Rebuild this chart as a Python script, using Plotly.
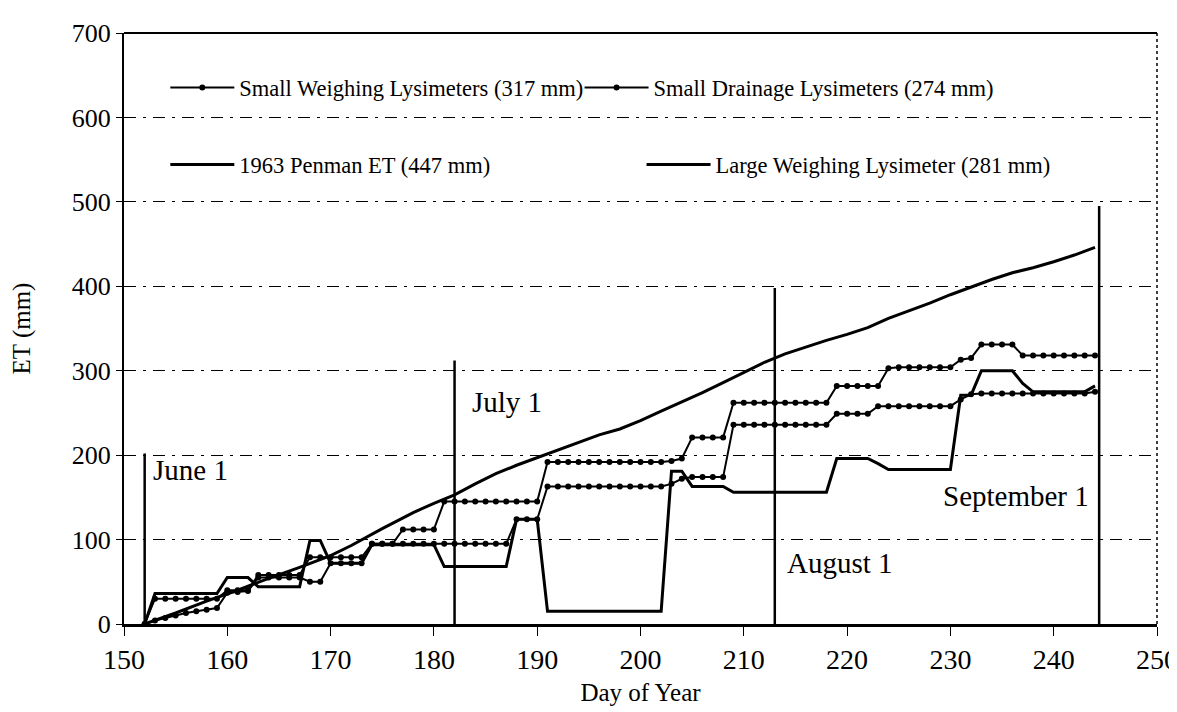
import plotly.graph_objects as go

# ---------------- data ----------------
days = [152, 153, 154, 155, 156, 157, 158, 159, 160, 161,
        162, 163, 164, 165, 166, 167, 168, 169, 170, 171,
        172, 173, 174, 175, 176, 177, 178, 179, 180, 181,
        182, 183, 184, 185, 186, 187, 188, 189, 190, 191,
        192, 193, 194, 195, 196, 197, 198, 199, 200, 201,
        202, 203, 204, 205, 206, 207, 208, 209, 210, 211,
        212, 213, 214, 215, 216, 217, 218, 219, 220, 221,
        222, 223, 224, 225, 226, 227, 228, 229, 230, 231,
        232, 233, 234, 235, 236, 237, 238, 239, 240, 241,
        242, 243, 244]

small_weighing = [0, 30, 30, 30, 30, 30, 30, 30, 40, 40,
                  40, 58, 58, 58, 58, 58, 79, 79, 79, 79,
                  79, 79, 95, 95, 95, 112, 112, 112, 112, 145,
                  145, 145, 145, 145, 145, 145, 145, 145, 145, 192,
                  192, 192, 192, 192, 192, 192, 192, 192, 192, 192,
                  192, 193, 196, 221, 221, 221, 221, 262, 262, 262,
                  262, 262, 262, 262, 262, 262, 262, 282, 282, 282,
                  282, 282, 303, 304, 304, 304, 304, 304, 304, 313,
                  315, 331, 331, 331, 331, 318, 318, 318, 318, 318,
                  318, 318, 318]

small_drainage = [0, 4, 7, 10, 13, 15, 17, 19, 37, 38,
                  39, 55, 55, 55, 55, 55, 50, 50, 72, 72,
                  72, 72, 95, 95, 95, 95, 95, 95, 95, 95,
                  95, 95, 95, 95, 95, 95, 124, 124, 124, 163,
                  163, 163, 163, 163, 163, 163, 163, 163, 163, 163,
                  163, 166, 172, 174, 174, 174, 174, 236, 236, 236,
                  236, 236, 236, 236, 236, 236, 236, 249, 249, 249,
                  249, 258, 258, 258, 258, 258, 258, 258, 258, 266,
                  272, 273, 273, 273, 273, 273, 273, 273, 273, 273,
                  273, 273, 275]

large_weighing = [0, 36, 36, 36, 36, 36, 36, 36, 55, 55,
                  55, 44, 44, 44, 44, 44, 99, 99, 72, 72,
                  72, 72, 94, 94, 94, 94, 94, 94, 94, 68,
                  68, 68, 68, 68, 68, 68, 124, 124, 124, 15,
                  15, 15, 15, 15, 15, 15, 15, 15, 15, 15,
                  15, 181, 181, 163, 163, 163, 163, 156, 156, 156,
                  156, 156, 156, 156, 156, 156, 156, 196, 196, 196,
                  196, 190, 183, 183, 183, 183, 183, 183, 183, 271,
                  271, 300, 300, 300, 300, 285, 275, 275, 275, 275,
                  275, 275, 282]

penman_days = [152, 155, 158, 161, 164, 167, 170, 172, 175, 178,
               180, 182, 184, 186, 188, 190, 192, 194, 196, 198,
               200, 202, 204, 206, 208, 210, 212, 214, 216, 218,
               220, 222, 224, 226, 228, 230, 232, 234, 236, 238,
               240, 242, 244]
penman = [0, 13, 27, 40, 54, 67, 81, 93, 113, 132,
          143, 153, 166, 178, 188, 197, 206, 215, 224, 231,
          241, 252, 263, 274, 286, 298, 310, 320, 328, 336,
          343, 351, 362, 371, 380, 390, 399, 408, 416, 422,
          429, 437, 446]

month_labels = ["June 1", "July 1", "August 1", "September 1"]
month_days = [152, 182, 213, 244.4]
month_tops = [202, 312, 398, 495]

legend_names = ["Small Weighing Lysimeters (317 mm)",
                "Small Drainage Lysimeters (274 mm)",
                "1963 Penman ET (447 mm)",
                "Large Weighing Lysimeter (281 mm)"]

x_ticks = [150, 160, 170, 180, 190, 200, 210, 220, 230, 240, 250]
y_ticks = [0, 100, 200, 300, 400, 500, 600, 700]

# ---------------- figure ----------------
FONT = "Liberation Serif, Times New Roman, serif"
fig = go.Figure()

# month marker lines
for d, top in zip(month_days, month_tops):
    fig.add_trace(go.Scatter(x=[d, d], y=[0, top], mode="lines",
                             line=dict(color="black", width=2.5),
                             showlegend=False, hoverinfo="skip"))

fig.add_trace(go.Scatter(x=penman_days, y=penman, mode="lines",
                         name=legend_names[2], legend="legend3",
                         line=dict(color="black", width=3)))
fig.add_trace(go.Scatter(x=days, y=large_weighing, mode="lines",
                         name=legend_names[3], legend="legend4",
                         line=dict(color="black", width=3)))
fig.add_trace(go.Scatter(x=days, y=small_weighing, mode="lines+markers",
                         name=legend_names[0], legend="legend",
                         line=dict(color="black", width=2),
                         marker=dict(color="black", size=6, symbol="circle")))
fig.add_trace(go.Scatter(x=days, y=small_drainage, mode="lines+markers",
                         name=legend_names[1], legend="legend2",
                         line=dict(color="black", width=2),
                         marker=dict(color="black", size=6, symbol="circle")))

# month text labels
label_pos = [(152.6, 182, "left"), (183.5, 263, "left"), (214.0, 72, "left"), (243.6, 152, "right")]
for txt, (lx, ly, anc) in zip(month_labels, label_pos):
    fig.add_annotation(x=lx, y=ly, text=txt, showarrow=False, xanchor=anc,
                       yanchor="middle", font=dict(family=FONT, size=29, color="black"))

# right dotted border
fig.add_shape(type="line", xref="paper", yref="paper", x0=1, x1=1, y0=0, y1=1,
              line=dict(color="black", width=1.5, dash="dot"))
# solid top border
fig.add_shape(type="line", xref="paper", yref="paper", x0=0, x1=1, y0=1, y1=1,
              line=dict(color="black", width=2))

leg_common = dict(orientation="h", bgcolor="rgba(0,0,0,0)", itemwidth=64,
                  font=dict(family=FONT, size=22.5, color="black"),
                  xanchor="left", yanchor="middle", borderwidth=0,
                  itemclick=False, itemdoubleclick=False)

# the page body has an 8px margin, so the figure is 8px smaller than the window
fig.update_layout(
    width=1169, height=704,
    paper_bgcolor="white", plot_bgcolor="white",
    margin=dict(l=116, r=20, t=25, b=88, autoexpand=False),
    font=dict(family=FONT, color="black"),
    legend=dict(x=0.040, y=0.907, **leg_common),
    legend2=dict(x=0.441, y=0.907, **leg_common),
    legend3=dict(x=0.040, y=0.777, **leg_common),
    legend4=dict(x=0.501, y=0.777, **leg_common),
    xaxis=dict(range=[150, 250], tickvals=x_ticks, showgrid=False, zeroline=False,
               showline=True, linecolor="black", linewidth=2.5, mirror=False,
               automargin=False, ticklabeloverflow="allow",
               ticks="outside", ticklen=9, tickcolor="black",
               tickfont=dict(family=FONT, size=28, color="black"),
               title=dict(text="Day of Year", font=dict(family=FONT, size=25, color="black"),
                          standoff=10)),
    yaxis=dict(range=[0, 700], tickvals=y_ticks, zeroline=False,
               showline=True, linecolor="black", linewidth=2, mirror=False,
               automargin=False,
               ticks="outside", ticklen=6, tickcolor="black",
               showgrid=True, gridcolor="black", gridwidth=1.3,
               griddash="12px,7px,3px,7px",
               tickfont=dict(family=FONT, size=26, color="black"),
               title=dict(text="ET (mm)", font=dict(family=FONT, size=25, color="black"),
                          standoff=34)),
)

fig.write_html("out.html")
